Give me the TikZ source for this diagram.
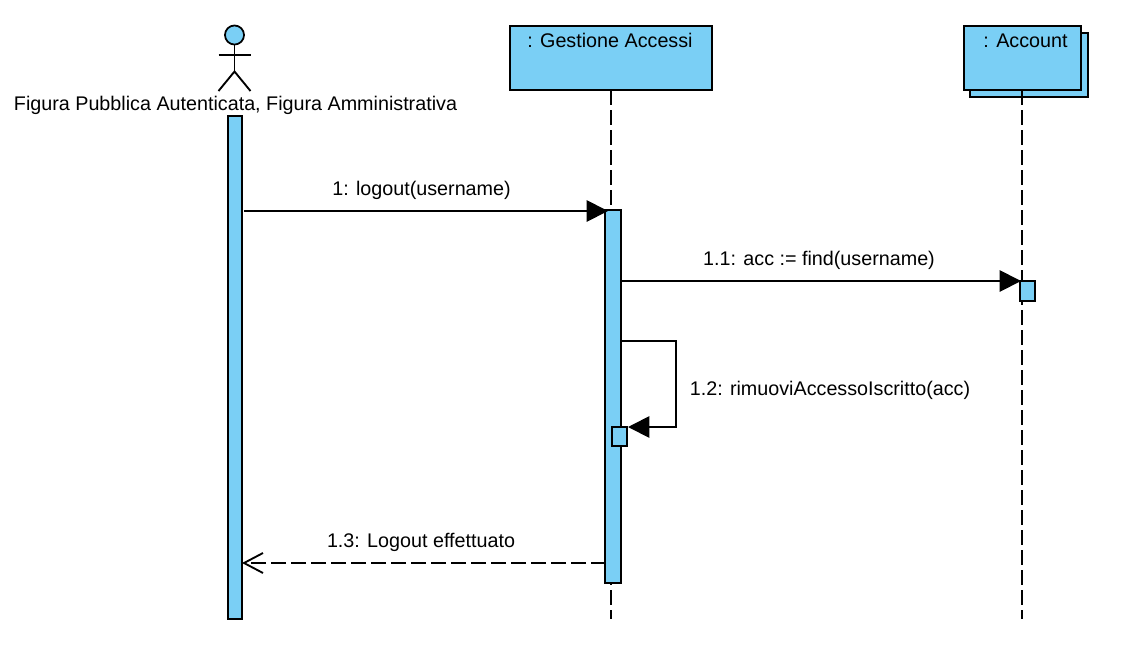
\documentclass[tikz,border=0pt]{standalone}
\usepackage{fontspec}
\setmainfont{Liberation Sans}
\usetikzlibrary{arrows.meta,calc}
\definecolor{umlblue}{RGB}{122,207,245}
\tikzset{
  x=0.75pt,y=-0.75pt,
  every node/.style={inner sep=0pt,outer sep=0pt},
  lbl/.style={font=\fontsize{14.8pt}{17pt}\selectfont,text=black,anchor=base},
  obj/.style={draw=black,fill=umlblue,line width=1.4pt,rectangle,anchor=north west},
  bar/.style={draw=black,fill=umlblue,line width=1.4pt,rectangle,anchor=north west},
  life/.style={draw=black,line width=1.4pt,dash pattern=on 11.25pt off 3.75pt},
  msg/.style={draw=black,line width=1.4pt,-{Triangle[length=16pt,width=16pt]}},
  retline/.style={draw=black,line width=1.4pt,dash pattern=on 11.25pt off 3.75pt},
  actorline/.style={draw=black,line width=1.4pt}
}
\begin{document}
\begin{tikzpicture}
\useasboundingbox (0,0) rectangle (1127,665);
% actor
\node[draw=black,fill=umlblue,circle,line width=1.3pt,minimum size=14.3pt] (head) at (234.5,35) {};
\coordinate (hip) at (234.5,71.5);
\coordinate (armL) at (218.5,55);
\coordinate (armR) at (250.5,55);
\coordinate (legL) at (218.5,91);
\coordinate (legR) at (250.5,91);
\draw[actorline] (head.south) -- (hip);
\draw[actorline] (armL) -- (armR);
\draw[actorline] (legL) -- (hip) -- (legR);
\node[lbl] (actorname) at (235.5,110) {Figura Pubblica Autenticata, Figura Amministrativa};
% objects
\node[obj,minimum width=151.5pt,minimum height=48pt] (gest) at (510,26) {};
\node[lbl] (gesttext) at (610,47) {: Gestione Accessi};
\node[obj,minimum width=88.5pt,minimum height=48pt] (accback) at (970,33) {};
\node[obj,minimum width=87.75pt,minimum height=48pt] (acc) at (964,26) {};
\node[lbl] (acctext) at (1025.5,47) {: Account};
% lifelines
\coordinate (gestTop) at (611,90);
\coordinate (gestEnd) at (611,619);
\coordinate (accTop) at (1022,90);
\coordinate (accEnd) at (1022,619);
\draw[life] (gestTop) -- (gestEnd);
\draw[life] (accTop) -- (accEnd);
% activations
\node[bar,minimum width=10.5pt,minimum height=377.25pt] (actA) at (228,116) {};
\node[bar,minimum width=12pt,minimum height=279.75pt] (actG) at (605,210) {};
\node[bar,minimum width=11.25pt,minimum height=15pt] (actC) at (1020,281) {};
\node[bar,minimum width=11.25pt,minimum height=14.25pt] (actS) at (612,427) {};
% messages
\coordinate (m1s) at (244,211);
\coordinate (m1e) at (608,211);
\draw[msg] (m1s) -- (m1e);
\node[lbl] (m1) at (421.5,195.5) {1: logout(username)};
\coordinate (m2s) at (622,281);
\coordinate (m2e) at (1021,281);
\draw[msg] (m2s) -- (m2e);
\node[lbl] (m2) at (819,265.5) {1.1: acc := find(username)};
\coordinate (m3a) at (621,341);
\coordinate (m3b) at (676,341);
\coordinate (m3c) at (676,427);
\coordinate (m3e) at (628,427);
\draw[msg] (m3a) -- (m3b) -- (m3c) -- (m3e);
\node[lbl] (m3) at (830,395) {1.2: rimuoviAccessoIscritto(acc)};
\coordinate (m4s) at (606,563);
\coordinate (m4e) at (244,563);
\coordinate (m4u) at (263,553);
\coordinate (m4d) at (263,573);
\draw[retline] (m4s) -- (m4e);
\draw[actorline] (m4u) -- (m4e) -- (m4d);
\node[lbl] (m4) at (421,547) {1.3: Logout effettuato};
\end{tikzpicture}
\end{document}
